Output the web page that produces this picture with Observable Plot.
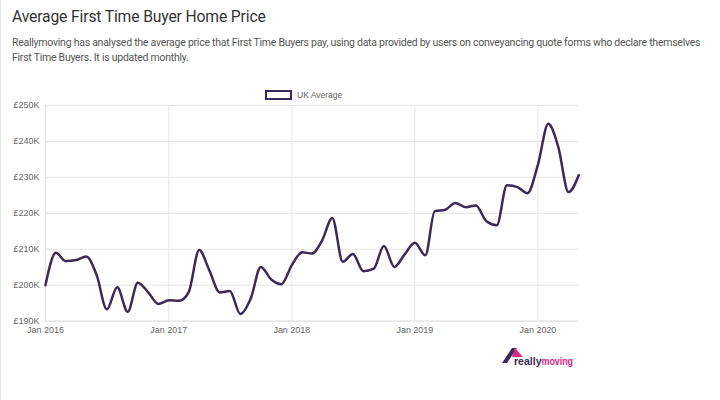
<!DOCTYPE html>
<html>
<head>
<meta charset="utf-8">
<script src="https://cdn.jsdelivr.net/npm/d3@7"></script>
<script src="https://cdn.jsdelivr.net/npm/@observablehq/plot@0.6"></script>
<style>
  html, body { margin: 0; padding: 0; background: #fff; }
  #page { position: relative; width: 720px; height: 400px; overflow: hidden; border-left: 1px solid #e6e6e6; box-sizing: border-box; }
  #title { position: absolute; left: 11px; top: 7px; font-family: Roboto, sans-serif; font-size: 15.7px; letter-spacing: -0.15px; color: #333; white-space: nowrap; }
  #subtitle { position: absolute; left: 11px; top: 35px; font-family: Roboto, sans-serif; font-size: 10.5px; letter-spacing: -0.25px; line-height: 15px; color: #555; white-space: nowrap; }
  #legend { position: absolute; left: 264px; top: 90px; font-family: "Liberation Sans", Arial, sans-serif; font-size: 8.5px; color: #666; display: flex; align-items: center; }
  #legend .box { width: 23px; height: 6px; border: 2px solid #3b2a57; background: #fff; margin-right: 5px; }
  #chart { position: absolute; left: 0; top: 85px; }
  #logo { position: absolute; left: 498px; top: 344px; }
</style>
</head>
<body>
<div id="page">
  <div id="title">Average First Time Buyer Home Price</div>
  <div id="subtitle">Reallymoving has analysed the average price that First Time Buyers pay, using data provided by users on conveyancing quote forms who declare themselves<br>First Time Buyers. It is updated monthly.</div>
  <div id="legend"><div class="box"></div><span id="legendLabel"></span></div>
  <div id="chart"></div>
  <div id="logo">
    <svg width="90" height="26" viewBox="0 0 90 26">
      <polygon points="3,19 13,4 18,4 8,19" fill="#3b2a57"></polygon>
      <polygon points="16,4 24,13 13,13" fill="#d6287f"></polygon>
      <text x="15" y="21" textLength="27.5" lengthAdjust="spacingAndGlyphs" font-family="'Liberation Sans', Arial, sans-serif" font-weight="bold" font-size="11.5" fill="#3b2a57">really</text>
      <text x="42.5" y="21" textLength="31.5" lengthAdjust="spacingAndGlyphs" font-family="'Liberation Sans', Arial, sans-serif" font-weight="bold" font-size="11.5" fill="#d6287f">moving</text>
    </svg>
  </div>
</div>
<script>
const seriesName = "UK Average";
const startMonth = "2016-01";
const values = [
  200.0, 209.0, 206.7, 207.0, 208.0, 202.8, 193.3, 199.4, 192.6, 200.7, 198.0, 194.8,
  195.8, 195.7, 198.1, 209.8, 204.2, 198.0, 198.4, 192.0, 196.3, 205.1, 201.6, 200.3,
  205.6, 209.2, 208.8, 212.5, 218.7, 206.5, 208.7, 203.9, 204.6, 210.9, 205.1, 208.5,
  211.8, 208.3, 220.6, 221.0, 222.9, 221.7, 222.2, 217.8, 216.7, 227.8, 227.3, 225.6,
  233.5, 244.9, 238.6, 225.9, 230.6
];
const yTicks = [190000, 200000, 210000, 220000, 230000, 240000, 250000];
const xTickYears = [2016, 2017, 2018, 2019, 2020];

document.getElementById("legendLabel").textContent = seriesName;

const start = new Date(startMonth + "-01T00:00:00");
const data = values.map((v, i) => ({
  date: new Date(start.getFullYear(), start.getMonth() + i, 1),
  price: v * 1000
}));
const xTicks = xTickYears.map(y => new Date(y, 0, 1));
const fmtDate = d3.timeFormat("%b %Y");

const chart = Plot.plot({
  width: 720,
  height: 260,
  marginTop: 20,
  marginBottom: 24,
  marginLeft: 44,
  marginRight: 142,
  style: { fontFamily: "'Liberation Sans', Arial, sans-serif", fontSize: "9px", color: "#666", background: "transparent" },
  x: { type: "time", domain: [data[0].date, data[data.length - 1].date], ticks: xTicks, tickFormat: fmtDate, label: null, tickSize: 0, tickPadding: 5 },
  y: { domain: [190000, 250000], ticks: yTicks, tickFormat: v => "£" + (v / 1000) + "K", label: null, tickSize: 0, tickPadding: 6 },
  marks: [
    Plot.gridY(yTicks, { stroke: "#e6e6e6", strokeOpacity: 1 }),
    Plot.gridX(xTicks, { stroke: "#e6e6e6", strokeOpacity: 1 }),
    Plot.ruleX([data[0].date], { stroke: "#e0e0e0" }),
    Plot.ruleY([190000], { stroke: "#e0e0e0" }),
    Plot.axisY({ ticks: yTicks, tickFormat: v => "£" + (v / 1000) + "K", tickSize: 0, tickPadding: 6, label: null }),
    Plot.axisX({ ticks: xTicks, tickFormat: fmtDate, tickSize: 0, tickPadding: 5, label: null }),
    Plot.line(data, { x: "date", y: "price", stroke: "#3b2a57", strokeWidth: 2.5, curve: "monotone-x" })
  ]
});
document.getElementById("chart").appendChild(chart);
</script>
</body>
</html>
